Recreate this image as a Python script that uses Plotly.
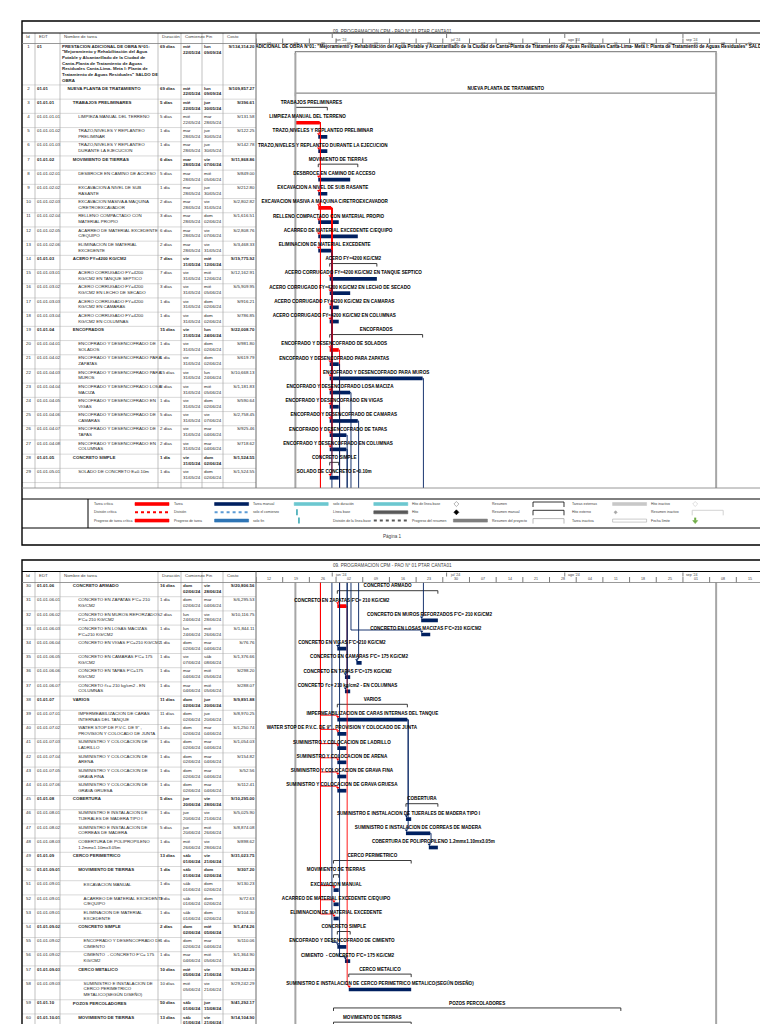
import plotly.graph_objects as go
from datetime import datetime, timedelta

# ------------------------------------------------------------------ data
task_ids = list(range(1, 61))

edt_codes = [
    "01", "01.01", "01.01.01", "01.01.01.01", "01.01.01.02", "01.01.01.03",
    "01.01.02", "01.01.02.01", "01.01.02.02", "01.01.02.03", "01.01.02.04",
    "01.01.02.05", "01.01.02.06", "01.01.03", "01.01.03.01", "01.01.03.02",
    "01.01.03.03", "01.01.03.04", "01.01.04", "01.01.04.01", "01.01.04.02",
    "01.01.04.03", "01.01.04.04", "01.01.04.05", "01.01.04.06", "01.01.04.07",
    "01.01.04.08", "01.01.05", "01.01.05.01",
    "01.01.06", "01.01.06.01", "01.01.06.02", "01.01.06.03", "01.01.06.04",
    "01.01.06.05", "01.01.06.06", "01.01.06.07", "01.01.07", "01.01.07.01",
    "01.01.07.02", "01.01.07.03", "01.01.07.04", "01.01.07.05", "01.01.07.06",
    "01.01.08", "01.01.08.01", "01.01.08.02", "01.01.08.03", "01.01.09",
    "01.01.09.01", "01.01.09.01", "01.01.09.01", "01.01.09.01", "01.01.09.02",
    "01.01.09.02", "01.01.09.02", "01.01.09.03", "01.01.09.03", "01.01.10",
    "01.01.10.01",
]

task_names = [
    'PRESTACION ADICIONAL DE OBRA N°01:\n"Mejoramiento y Rehabilitación del Agua\n'
    'Potable y Alcantarillado de la Ciudad de\nCanta-Planta de Tratamiento de Aguas\n'
    'Residuales Canta-Lima- Meta I: Planta de\nTratamiento de Aguas Residuales" SALDO DE\nOBRA',
    "NUEVA PLANTA DE TRATAMIENTO",
    "TRABAJOS PRELIMINARES",
    "LIMPIEZA MANUAL DEL TERRENO",
    "TRAZO,NIVELES Y REPLANTEO\nPRELIMINAR",
    "TRAZO,NIVELES Y REPLANTEO\nDURANTE LA EJECUCION",
    "MOVIMIENTO DE TIERRAS",
    "DESBROCE EN CAMINO DE ACCESO",
    "EXCAVACION A NIVEL DE SUB\nRASANTE",
    "EXCAVACION MASIVA A MAQUINA\nC/RETROEXCAVADOR",
    "RELLENO COMPACTADO CON\nMATERIAL PROPIO",
    "ACARREO DE MATERIAL EXCEDENTE\nC/EQUIPO",
    "ELIMINACION DE MATERIAL\nEXCEDENTE",
    "ACERO FY=4200 KG/CM2",
    "ACERO CORRUGADO FY=4200\nKG/CM2 EN TANQUE SEPTICO",
    "ACERO CORRUGADO FY=4200\nKG/CM2 EN LECHO DE SECADO",
    "ACERO CORRUGADO FY=4200\nKG/CM2 EN CAMARAS",
    "ACERO CORRUGADO FY=4200\nKG/CM2 EN COLUMNAS",
    "ENCOFRADOS",
    "ENCOFRADO Y DESENCOFRADO DE\nSOLADOS",
    "ENCOFRADO Y DESENCOFRADO PARA\nZAPATAS",
    "ENCOFRADO Y DESENCOFRADO PARA\nMUROS",
    "ENCOFRADO Y DESENCOFRADO LOSA\nMACIZA",
    "ENCOFRADO Y DESENCOFRADO EN\nVIGAS",
    "ENCOFRADO Y DESENCOFRADO DE\nCAMARAS",
    "ENCOFRADO Y DESENCOFRADO DE\nTAPAS",
    "ENCOFRADO Y DESENCOFRADO EN\nCOLUMNAS",
    "CONCRETO SIMPLE",
    "SOLADO DE CONCRETO E=0.10m",
    "CONCRETO ARMADO",
    "CONCRETO EN ZAPATAS F'C= 210\nKG/CM2",
    "CONCRETO EN MUROS REFORZADOS\nF'C= 210 KG/CM2",
    "CONCRETO EN LOSAS MACIZAS\nF'C=210 KG/CM2",
    "CONCRETO EN VIGAS F'C=210 KG/CM2",
    "CONCRETO EN CAMARAS F'C= 175\nKG/CM2",
    "CONCRETO EN TAPAS F'C=175\nKG/CM2",
    "CONCRETO f'c= 210 kg/cm2 - EN\nCOLUMNAS",
    "VARIOS",
    "IMPERMEABILIZACION DE CARAS\nINTERNAS DEL TANQUE",
    'WATER STOP DE P.V.C. DE 9" ,\nPROVISION Y COLOCADO DE JUNTA',
    "SUMINISTRO Y COLOCACION DE\nLADRILLO",
    "SUMINISTRO Y COLOCACION DE\nARENA",
    "SUMINISTRO Y COLOCACION DE\nGRAVA FINA",
    "SUMINISTRO Y COLOCACION DE\nGRAVA GRUESA",
    "COBERTURA",
    "SUMINISTRO E INSTALACION DE\nTIJERALES DE MADERA TIPO I",
    "SUMINISTRO E INSTALACION DE\nCORREAS DE MADERA",
    "COBERTURA DE POLIPROPILENO\n1.2mmx1.10mx3.05m",
    "CERCO PERIMETRICO",
    "MOVIMIENTO DE TIERRAS",
    "EXCAVACION MANUAL",
    "ACARREO DE MATERIAL EXCEDENTE\nC/EQUIPO",
    "ELIMINACION DE MATERIAL\nEXCEDENTE",
    "CONCRETO SIMPLE",
    "ENCOFRADO Y DESENCOFRADO DE\nCIMIENTO",
    "CIMIENTO  - CONCRETO F'C= 175\nKG/CM2",
    "CERCO METALICO",
    "SUMINISTRO E INSTALACION DE\nCERCO PERIMETRICO\nMETALICO(SEGÚN DISEÑO)",
    "POZOS PERCOLADORES",
    "MOVIMIENTO DE TIERRAS",
]

outline_levels = [0, 1, 2, 3, 3, 3, 2, 3, 3, 3, 3, 3, 3, 2, 3, 3, 3, 3, 2, 3,
                  3, 3, 3, 3, 3, 3, 3, 2, 3,
                  2, 3, 3, 3, 3, 3, 3, 3, 2, 3, 3, 3, 3, 3, 3, 2, 3, 3, 3, 2,
                  3, 4, 4, 4, 3, 4, 4, 3, 4, 2, 3]

durations = ["69 días", "69 días", "5 días", "5 días", "1 día", "1 día", "6 días",
             "5 días", "1 día", "2 días", "3 días", "6 días", "2 días", "7 días",
             "7 días", "3 días", "1 día", "1 día", "15 días", "1 día", "1 día",
             "15 días", "3 días", "1 día", "5 días", "2 días", "2 días", "1 día",
             "1 día",
             "16 días", "1 día", "2 días", "1 día", "1 día", "1 día", "1 día",
             "1 día", "11 días", "11 días", "1 día", "1 día", "1 día", "1 día",
             "1 día", "5 días", "1 día", "5 días", "1 día", "13 días", "1 día",
             "1 día", "1 día", "1 día", "2 días", "1 día", "1 día", "10 días",
             "10 días", "50 días", "13 días"]

start_dates = [
    "2024-05-22", "2024-05-22", "2024-05-22", "2024-05-22", "2024-05-28", "2024-05-28",
    "2024-05-28", "2024-05-28", "2024-05-28", "2024-05-28", "2024-05-28", "2024-05-28",
    "2024-05-28", "2024-05-31", "2024-05-31", "2024-05-31", "2024-05-31", "2024-05-31",
    "2024-05-31", "2024-05-31", "2024-05-31", "2024-05-31", "2024-05-31", "2024-05-31",
    "2024-05-31", "2024-05-31", "2024-05-31", "2024-05-31", "2024-05-31",
    "2024-06-02", "2024-06-02", "2024-06-24", "2024-06-24", "2024-06-02", "2024-06-07",
    "2024-06-04", "2024-06-04", "2024-06-02", "2024-06-02", "2024-06-02", "2024-06-02",
    "2024-06-02", "2024-06-02", "2024-06-02", "2024-06-20", "2024-06-20", "2024-06-20",
    "2024-06-26", "2024-06-01", "2024-06-01", "2024-06-01", "2024-06-01", "2024-06-01",
    "2024-06-02", "2024-06-02", "2024-06-04", "2024-06-05", "2024-06-05", "2024-06-01",
    "2024-06-01",
]

finish_dates = [
    "2024-09-09", "2024-09-09", "2024-05-30", "2024-05-28", "2024-05-30", "2024-05-30",
    "2024-06-07", "2024-06-05", "2024-05-30", "2024-05-31", "2024-06-02", "2024-06-07",
    "2024-05-31", "2024-06-12", "2024-06-12", "2024-06-05", "2024-06-02", "2024-06-02",
    "2024-06-24", "2024-06-02", "2024-06-02", "2024-06-24", "2024-06-05", "2024-06-02",
    "2024-06-07", "2024-06-04", "2024-06-04", "2024-06-02", "2024-06-02",
    "2024-06-28", "2024-06-04", "2024-06-28", "2024-06-26", "2024-06-04", "2024-06-08",
    "2024-06-05", "2024-06-05", "2024-06-20", "2024-06-20", "2024-06-04", "2024-06-04",
    "2024-06-04", "2024-06-04", "2024-06-04", "2024-06-28", "2024-06-21", "2024-06-26",
    "2024-06-28", "2024-06-21", "2024-06-02", "2024-06-02", "2024-06-02", "2024-06-02",
    "2024-06-05", "2024-06-04", "2024-06-05", "2024-06-21", "2024-06-21", "2024-08-15",
    "2024-06-21",
]

costs = ["S/134,314.20", "S/109,857.27", "S/396.61", "S/131.58", "S/122.25", "S/142.78",
         "S/11,868.86", "S/849.00", "S/212.80", "S/2,802.82", "S/1,616.51", "S/2,808.76",
         "S/3,468.33", "S/19,775.92", "S/12,162.91", "S/5,909.95", "S/916.21", "S/786.85",
         "S/22,008.70", "S/981.80", "S/619.79", "S/10,668.13", "S/1,181.83", "S/590.64",
         "S/2,758.45", "S/925.46", "S/718.62", "S/1,524.55", "S/1,524.55",
         "S/20,806.56", "S/6,295.53", "S/10,116.75", "S/1,844.11", "S/76.76", "S/1,376.66",
         "S/298.20", "S/288.07", "S/9,891.88", "S/8,970.25", "S/1,250.74", "S/1,054.03",
         "S/154.82", "S/52.56", "S/112.41", "S/10,295.00", "S/5,025.90", "S/8,874.08",
         "S/898.62", "S/31,023.75", "S/307.20", "S/130.23", "S/72.63", "S/104.30",
         "S/1,474.26", "S/110.06", "S/1,364.90", "S/29,242.29", "S/29,242.29",
         "S/41,292.17", "S/14,104.90"]

# P = resumen del proyecto, S = resumen, C = tarea crítica, N = tarea
task_kind = ["P", "P", "S", "C", "N", "N", "S", "N", "N", "C", "N", "N", "N", "S",
             "N", "N", "N", "N", "S", "C", "N", "N", "N", "N", "N", "N", "N", "S", "N",
             "S", "C", "N", "N", "N", "N", "N", "N", "S", "N", "N", "N", "N", "N", "N",
             "S", "N", "N", "N", "S", "S", "N", "N", "N", "S", "N", "N", "S", "N", "S", "S"]

# (predecesora, sucesora, crítico)
links = [(4, 5, 1), (4, 6, 1), (4, 8, 1), (4, 9, 1), (4, 10, 1), (4, 11, 1), (4, 12, 1),
         (4, 13, 1), (4, 39, 1), (4, 40, 1), (4, 41, 1), (4, 42, 1), (4, 43, 1),
         (4, 44, 1), (4, 51, 1), (4, 52, 1), (4, 53, 1),
         (10, 15, 1), (10, 16, 1), (10, 17, 1), (10, 18, 1), (10, 20, 1), (10, 21, 1),
         (10, 22, 1), (10, 23, 1), (10, 24, 1), (10, 25, 1), (10, 26, 1), (10, 27, 1),
         (10, 29, 1), (20, 31, 1), (31, 58, 1),
         (13, 55, 0), (21, 56, 0), (22, 32, 0), (23, 33, 0), (24, 34, 0), (25, 35, 0),
         (26, 36, 0), (27, 37, 0), (39, 46, 0), (39, 47, 0), (47, 48, 0)]

page_rows = [29, 31]
timeline_start, timeline_end = "2024-05-12", "2024-09-22"
week_labels = ["12", "19", "26", "02", "09", "16", "23", "30", "07", "14", "21",
               "28", "04", "11", "18", "25", "01", "08", "15"]
month_starts = ["2024-06-01", "2024-07-01", "2024-08-01", "2024-09-01"]
month_labels = ["jun '24", "jul '24", "ago '24", "sep '24"]
title_text = "09. PROGRAMACION CPM - PAO N° 01 PTAR CANTA01"
dias = ["lun", "mar", "mié", "jue", "vie", "sáb", "dom"]

legend_items = [
    ("Tarea crítica", "bar", "#FF0000"), ("División crítica", "dots", "#FF0000"),
    ("Progreso de tarea crítica", "bar", "#FF0000"),
    ("Tarea", "bar", "#002060"), ("División", "dots", "#5B9BD5"),
    ("Progreso de tarea", "bar", "#2E75B6"),
    ("Tarea manual", "bar", "#6CC7D0"), ("solo el comienzo", "start", "#2FA3AE"),
    ("solo fin", "end", "#2FA3AE"),
    ("solo duración", "bar", "#6CC7D0"), ("Línea base", "bar", "#595959"),
    ("División de la línea base", "dots", "#595959"),
    ("Hito de línea base", "odiamond", "#808080"), ("Hito", "diamond", "#000000"),
    ("Progreso del resumen", "bar", "#7F7F7F"),
    ("Resumen", "bracket", "#000000"), ("Resumen manual", "bracket", "#000000"),
    ("Resumen del proyecto", "bracket", "#A6A6A6"),
    ("Tareas externas", "bar", "#C8C8C8"), ("Hito externo", "sdiamond", "#A6A6A6"),
    ("Tarea inactiva", "obar", "#A6A6A6"),
    ("Hito inactivo", "odiamond", "#C8C8C8"), ("Resumen inactivo", "bracket", "#C8C8C8"),
    ("Fecha límite", "arrow", "#70AD47"),
]

# ------------------------------------------------------------------ layout constants
W, H = 768, 1024
FONT = "Liberation Sans, Arial"
FS = 4.4                         # font size of the sheet text
FSB = 4.6                        # font size of the bar labels
LINE = 5.45                      # px per text line
PAD = 3.3                        # extra px per row
X0, XS, X1 = 14, 248, 755        # frame left, table/gantt split, frame right
COLS = [0, 13, 38, 136, 159, 180, 201, 234]
PAGES = [dict(frame=(13, 537), title=25, head=35.5, body=480, legend=(491, 520)),
         dict(frame=(552, 1023.5), title=563.5, head=574.5, body=1020, legend=None)]
RED, NAVY, GRID = "#FF0000", "#002060", "#C8C8C8"


def fx(x):
    return x / W


def fy(y):
    return 1 - y / H


def at(d, hour):
    return datetime.strptime(d, "%Y-%m-%d") + timedelta(hours=hour)


def nlines(i):
    return max(2, task_names[i].count("\n") + 1)


def bold(lines):
    return "<br>".join("<b>%s</b>" % l for l in lines)


def plain(lines):
    return "<br>".join(lines)


fig = go.Figure()
shapes, annotations, axes = [], [], {}
tl0 = datetime.strptime(timeline_start, "%Y-%m-%d")

first = 0
for p, page in enumerate(PAGES):
    rows = list(range(first, first + page_rows[p]))
    first += page_rows[p]
    xt, xg, ya = ("x", "x2", "y") if p == 0 else ("x3", "x4", "y2")
    top, bot = page["head"], page["body"]
    yr = bot - top                      # y axis in px below the header
    axes["xaxis" if p == 0 else "xaxis3"] = dict(domain=[fx(X0), fx(XS)], range=[0, XS - X0],
                                                 anchor=ya, visible=False)
    axes["xaxis2" if p == 0 else "xaxis4"] = dict(domain=[fx(XS), fx(X1)], type="date",
                                                  range=[timeline_start, timeline_end],
                                                  anchor=ya, visible=False)
    axes["yaxis" if p == 0 else "yaxis2"] = dict(domain=[fy(bot), fy(top)], range=[yr, 0],
                                                 anchor=xt, visible=False)

    # row geometry
    tops, y = {}, 0.0
    for i in rows:
        tops[i] = y
        y += nlines(i) * LINE + PAD
    bar_y = {i: tops[i] + 9.4 for i in rows}

    # ---------------- table text
    cols = {"id": [], "edt": [], "name": [], "dur": [], "ini": [], "fin": [], "cost": []}
    ys1, ysn, name_x = [], [], []
    for i in rows:
        f = bold if task_kind[i] in "PS" else plain
        s, e = at(start_dates[i], 0), at(finish_dates[i], 0)
        cols["id"].append(str(task_ids[i]))
        cols["edt"].append(f([edt_codes[i]]))
        cols["name"].append(f(task_names[i].split("\n")))
        cols["dur"].append(f([durations[i]]))
        cols["ini"].append(f([dias[s.weekday()], s.strftime("%d/%m/%y")]))
        cols["fin"].append(f([dias[e.weekday()], e.strftime("%d/%m/%y")]))
        cols["cost"].append(f([costs[i]]))
        ys1.append(tops[i] + 3.6)
        ysn.append(tops[i] + 1.0 + (task_names[i].count("\n") + 1) * LINE / 2)
        name_x.append(40 + outline_levels[i] * 5.4)
    n = len(rows)
    ys2 = [tops[i] + 1.0 + LINE for i in rows]
    col_x = {"id": [6.5] * n, "edt": [15] * n, "name": name_x, "dur": [138] * n,
             "ini": [161] * n, "fin": [182] * n, "cost": [232.5] * n}
    col_y = {"id": ys1, "edt": ys1, "name": ysn, "dur": ys1, "ini": ys2, "fin": ys2,
             "cost": ys1}
    col_pos = {"id": "middle center", "cost": "middle left"}
    for k, txt in cols.items():
        fig.add_trace(go.Scatter(x=col_x[k], y=col_y[k], text=txt, mode="text", xaxis=xt,
                                 yaxis=ya, textposition=col_pos.get(k, "middle right"),
                                 cliponaxis=False,
                                 textfont=dict(family=FONT, size=FS, color="#262626"),
                                 hoverinfo="skip"))

    # row and column grid lines of the table
    for i in rows:
        yb = tops[i] + nlines(i) * LINE + PAD
        shapes.append(dict(type="line", xref=xt, yref=ya, x0=0, x1=XS - X0, y0=yb, y1=yb,
                           line=dict(color=GRID, width=0.7)))
    for c in COLS[1:-1]:
        shapes.append(dict(type="line", xref=xt, yref="paper", x0=c, x1=c,
                           y0=fy(page["title"]), y1=fy(bot), line=dict(color="#A6A6A6", width=0.7)))
    headers = ["Id", "EDT", "Nombre de tarea", "Duración", "Comienzo", "Fin", "Costo"]
    for c, hname in zip(COLS[:-1], headers):
        annotations.append(dict(xref=xt, yref="paper", x=c + 1.5, y=fy(page["title"] + 3.5),
                                text=hname, showarrow=False, xanchor="left", yanchor="middle",
                                font=dict(family=FONT, size=FS, color="#404040")))

    # ---------------- gantt bars
    for kind, color in (("C", RED), ("N", NAVY)):
        sel = [i for i in rows if task_kind[i] == kind]
        fig.add_trace(go.Bar(
            y=[bar_y[i] for i in sel],
            base=[at(start_dates[i], 8) for i in sel],
            x=[(at(finish_dates[i], 17) - at(start_dates[i], 8)).total_seconds() * 1000
               for i in sel],
            orientation="h", width=3.7, marker=dict(color=color, line=dict(width=0)),
            xaxis=xg, yaxis=ya, hoverinfo="skip"))

    # summary brackets
    for kind, color, wd in (("P", "#8C8C8C", 1.3), ("S", "#262626", 0.9)):
        bx, by = [], []
        for i in rows:
            if task_kind[i] != kind:
                continue
            s, e, yb = at(start_dates[i], 8), at(finish_dates[i], 17), bar_y[i] - 1.2
            bx += [s, s, e, e, None]
            by += [yb + 3, yb, yb, yb + 3, None]
        fig.add_trace(go.Scatter(x=bx, y=by, mode="lines", xaxis=xg, yaxis=ya,
                                 line=dict(color=color, width=wd), hoverinfo="skip"))

    # project start / finish lines
    proj_y0 = bar_y[0] if p == 0 else -5
    for d, h in ((start_dates[0], 8), (finish_dates[0], 17)):
        fig.add_trace(go.Scatter(x=[at(d, h), at(d, h)], y=[proj_y0, yr + 5], mode="lines",
                                 xaxis=xg, yaxis=ya, line=dict(color="#A6A6A6", width=2),
                                 hoverinfo="skip"))

    # dependency links
    for crit in (1, 0):
        lx, ly, ax_, ay_ = [], [], [], []
        for a, b, c in links:
            if c != crit:
                continue
            ia, ib = a - 1, b - 1
            if ia not in rows and ib not in rows:
                continue
            xe = at(finish_dates[ia], 17)
            xv = xe + timedelta(hours=5)
            xs = at(start_dates[ib], 8)
            ya0 = bar_y[ia] if ia in rows else -5
            yb0 = bar_y[ib] - 4.5 if ib in rows else yr + 5
            pts_x = ([xe] if ia in rows else []) + [xv, xv]
            pts_y = ([ya0] if ia in rows else []) + [ya0, yb0]
            if ib in rows:
                pts_x += [xs + timedelta(hours=3)]
                pts_y += [yb0]
                ax_.append(xs + timedelta(hours=3))
                ay_.append(bar_y[ib] - 3)
            lx += pts_x + [None]
            ly += pts_y + [None]
        col = RED if crit else NAVY
        fig.add_trace(go.Scatter(x=lx, y=ly, mode="lines", xaxis=xg, yaxis=ya,
                                 line=dict(color=col, width=0.9), hoverinfo="skip"))
        fig.add_trace(go.Scatter(x=ax_, y=ay_, mode="markers", xaxis=xg, yaxis=ya,
                                 marker=dict(symbol="triangle-down", size=3, color=col),
                                 hoverinfo="skip"))

    # bar labels
    fig.add_trace(go.Scatter(
        x=[at(start_dates[i], 8) + (at(finish_dates[i], 17) - at(start_dates[i], 8)) / 2
           for i in rows],
        y=[tops[i] + 3.7 for i in rows],
        text=["<b>%s</b>" % task_names[i].replace("\n", " ") for i in rows],
        mode="text", textposition="middle center", xaxis=xg, yaxis=ya, cliponaxis=True,
        textfont=dict(family=FONT, size=FSB, color="#000000"), hoverinfo="skip"))

    # ---------------- timescale header
    hy0 = page["title"]
    for k, lab in enumerate(week_labels):
        w0 = tl0 + timedelta(days=7 * k)
        annotations.append(dict(xref=xg, yref="paper", x=w0 + timedelta(days=3.5),
                                y=fy(hy0 + 7.3), text=lab, showarrow=False,
                                font=dict(family=FONT, size=3.6, color="#404040")))
        shapes.append(dict(type="line", xref=xg, yref="paper", x0=w0, x1=w0,
                           y0=fy(hy0 + 5.5), y1=fy(top), line=dict(color="#404040", width=0.7)))
    for m, lab in zip(month_starts, month_labels):
        shapes.append(dict(type="line", xref=xg, yref="paper", x0=m, x1=m,
                           y0=fy(hy0 + 1), y1=fy(hy0 + 5), line=dict(color="#404040", width=0.7)))
        annotations.append(dict(xref=xg, yref="paper", x=m, y=fy(hy0 + 3), text=lab,
                                xanchor="left", xshift=1, showarrow=False,
                                font=dict(family=FONT, size=3.6, color="#404040")))

    # ---------------- page frame
    f0, f1 = page["frame"]
    shapes += [
        dict(type="rect", xref="paper", yref="paper", x0=fx(X0), x1=fx(X1), y0=fy(f1), y1=fy(f0),
             line=dict(color="#000000", width=1.4)),
        dict(type="line", xref="paper", yref="paper", x0=fx(X0), x1=fx(X1),
             y0=fy(hy0), y1=fy(hy0), line=dict(color="#000000", width=1)),
        dict(type="line", xref="paper", yref="paper", x0=fx(X0), x1=fx(X1),
             y0=fy(top), y1=fy(top), line=dict(color="#7F7F7F", width=0.8)),
        dict(type="line", xref="paper", yref="paper", x0=fx(XS), x1=fx(XS),
             y0=fy(hy0), y1=fy(bot), line=dict(color="#595959", width=0.9)),
        dict(type="line", xref="paper", yref="paper", x0=fx(X0), x1=fx(X1),
             y0=fy(bot), y1=fy(bot), line=dict(color="#7F7F7F", width=0.8)),
    ]
    annotations.append(dict(xref="paper", yref="paper", x=fx((X0 + X1) / 2),
                            y=fy((f0 + hy0) / 2), text=title_text, showarrow=False,
                            font=dict(family=FONT, size=4.6, color="#404040")))

    # ---------------- legend box
    if page["legend"]:
        l0, l1 = page["legend"]
        shapes += [
            dict(type="line", xref="paper", yref="paper", x0=fx(X0), x1=fx(X1),
                 y0=fy(l0), y1=fy(l0), line=dict(color="#000000", width=1)),
            dict(type="line", xref="paper", yref="paper", x0=fx(X0), x1=fx(X1),
                 y0=fy(l1), y1=fy(l1), line=dict(color="#000000", width=1)),
            dict(type="line", xref="paper", yref="paper", x0=fx(80), x1=fx(80),
                 y0=fy(l0), y1=fy(l1), line=dict(color="#000000", width=1)),
        ]
        annotations.append(dict(xref="paper", yref="paper", x=fx((X0 + X1) / 2),
                                y=fy((l1 + f1) / 2), text="Página 1", showarrow=False,
                                font=dict(family=FONT, size=4.6, color="#404040")))
        for n_, (lab, style, color) in enumerate(legend_items):
            cx = 84 + 79.6 * (n_ // 3)
            cy = l0 + 5 + 8.3 * (n_ % 3)
            sx0, sx1 = cx + 43, cx + 77
            annotations.append(dict(xref="paper", yref="paper", x=fx(cx), y=fy(cy),
                                    text=lab, showarrow=False, xanchor="left",
                                    font=dict(family=FONT, size=3.5, color="#404040")))
            if style in ("bar", "obar"):
                shapes.append(dict(type="rect", xref="paper", yref="paper", x0=fx(sx0),
                                   x1=fx(sx1), y0=fy(cy + 1.5), y1=fy(cy - 1.5),
                                   fillcolor=color if style == "bar" else "white",
                                   line=dict(color=color, width=0.6)))
            elif style == "dots":
                shapes.append(dict(type="line", xref="paper", yref="paper", x0=fx(sx0),
                                   x1=fx(sx1), y0=fy(cy), y1=fy(cy),
                                   line=dict(color=color, width=2, dash="dot")))
            elif style in ("start", "end"):
                xx = sx0 + 2 if style == "start" else sx0 + 4
                shapes.append(dict(type="rect", xref="paper", yref="paper", x0=fx(xx),
                                   x1=fx(xx + 1.5), y0=fy(cy + 3), y1=fy(cy - 3),
                                   fillcolor=color, line=dict(width=0)))
            elif style == "bracket":
                shapes.append(dict(type="path", xref="paper", yref="paper",
                                   path="M %f %f L %f %f L %f %f L %f %f" % (
                                       fx(sx0), fy(cy + 3), fx(sx0), fy(cy - 2),
                                       fx(sx1 - 3), fy(cy - 2), fx(sx1 - 3), fy(cy + 3)),
                                   line=dict(color=color, width=0.8)))
            elif style in ("diamond", "odiamond", "sdiamond", "arrow"):
                r = 1.6 if style == "sdiamond" else 2.5
                xc = sx0 + 3
                if style == "arrow":
                    path = "M %f %f L %f %f L %f %f Z" % (fx(xc - 2.5), fy(cy), fx(xc + 2.5),
                                                          fy(cy), fx(xc), fy(cy + 3))
                    shapes.append(dict(type="rect", xref="paper", yref="paper",
                                       x0=fx(xc - 1), x1=fx(xc + 1), y0=fy(cy), y1=fy(cy - 3),
                                       fillcolor=color, line=dict(width=0)))
                else:
                    path = "M %f %f L %f %f L %f %f L %f %f Z" % (
                        fx(xc), fy(cy - r), fx(xc + r), fy(cy), fx(xc), fy(cy + r),
                        fx(xc - r), fy(cy))
                shapes.append(dict(type="path", xref="paper", yref="paper", path=path,
                                   fillcolor="white" if style == "odiamond" else color,
                                   line=dict(color=color, width=0.6)))

fig.update_layout(width=W, height=H, margin=dict(l=0, r=0, t=0, b=0),
                  paper_bgcolor="white", plot_bgcolor="white", showlegend=False,
                  barmode="overlay", shapes=shapes, annotations=annotations, **axes)
fig.write_html("out.html")
